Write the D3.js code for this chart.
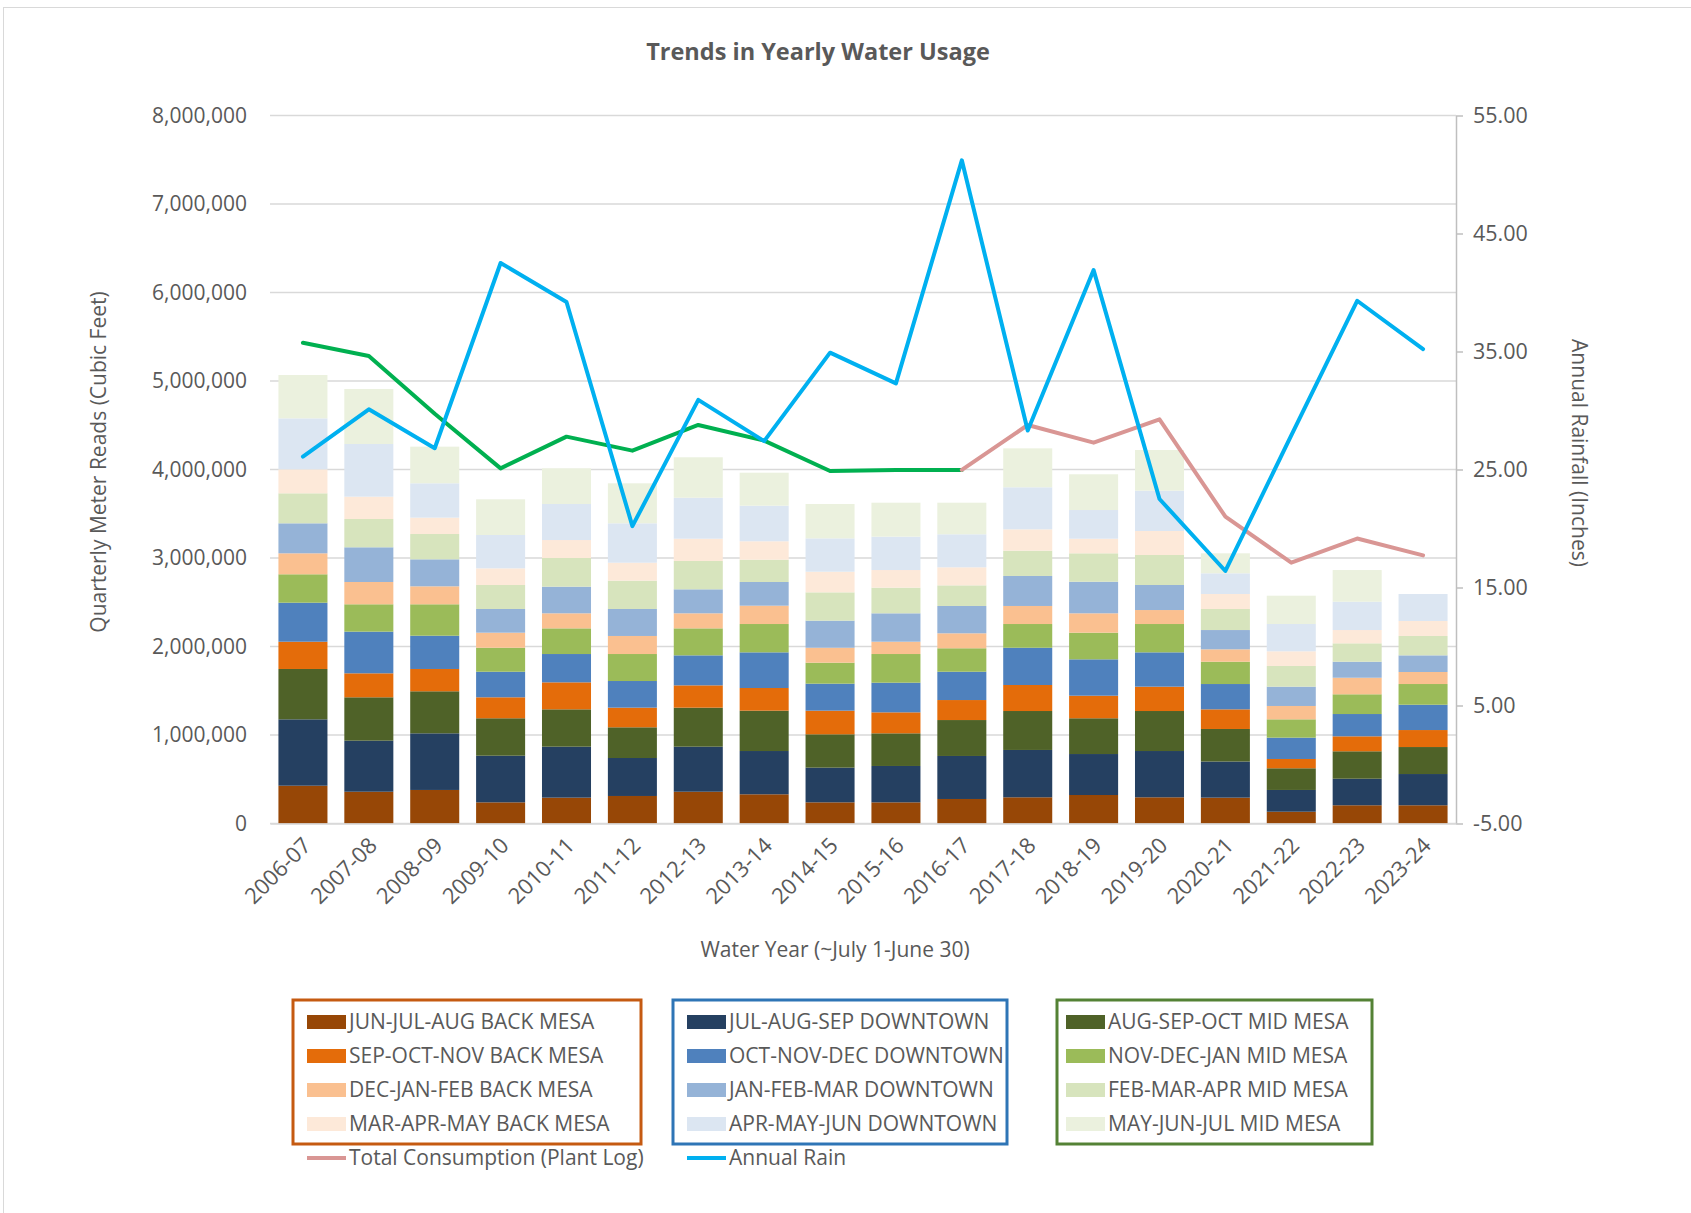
<!DOCTYPE html>
<html>
<head>
<meta charset="utf-8">
<script src="https://cdn.jsdelivr.net/npm/d3@7"></script>
<style>
  body { margin: 0; background: #fff; }
  text { font-family: "Open Sans", "Noto Sans", sans-serif; fill: #595959; }
</style>
</head>
<body>
<div id="chart"></div>
<script>
// water years
var years = ["2006-07","2007-08","2008-09","2009-10","2010-11","2011-12","2012-13","2013-14","2014-15",
             "2015-16","2016-17","2017-18","2018-19","2019-20","2020-21","2021-22","2022-23","2023-24"];

// quarterly meter reads, thousands of cubic feet (stack order, bottom first)
var junJulAugBack  = [427,359,379,239,292,311,359,330,239,239,277,296,322,296,292,133,206,206];
var julAugSepDown  = [750,577,640,527,576,429,509,489,392,411,486,535,463,523,408,246,300,353];
var augSepOctMid   = [569,490,475,423,422,347,441,456,377,369,406,440,404,452,368,245,310,305];
var sepOctNovBack  = [308,271,252,237,305,222,252,256,267,237,226,294,255,275,222,105,169,192];
var octNovDecDown  = [441,471,376,289,320,301,339,403,305,335,320,421,411,388,286,241,252,286];
var novDecJanMid   = [321,309,355,271,290,305,305,320,237,324,265,268,301,320,252,207,223,234];
var decJanFebBack  = [237,252,203,170,170,204,170,207,169,139,169,204,219,158,140,151,187,136];
var janFebMarDown  = [339,392,305,268,301,305,271,268,306,321,309,339,357,283,218,218,181,188];
var febMarAprMid   = [339,320,286,271,324,320,320,252,320,290,233,286,321,339,238,234,208,219];
var marAprMayBack  = [271,252,185,188,203,203,252,208,233,199,204,241,165,271,169,166,150,169];
var aprMayJunDown  = [576,595,388,377,407,445,463,402,377,377,373,475,324,456,234,308,320,305];
var mayJunJulMid   = [490,622,414,403,403,452,457,373,388,384,357,440,404,459,226,320,358,0];

// total consumption (plant log), cubic feet
var plantLog = [5433000,5282000,4630000,4013000,4371000,4213000,4503000,4326000,3983000,
                3994000,3995000,4503000,4303000,4567000,3467000,2947000,3220000,3030000];
// annual rain, inches
var annualRain = [26.1,30.1,26.8,42.5,39.2,20.2,30.9,27.4,34.9,32.3,51.2,28.3,41.9,22.5,16.4,27.9,39.3,35.2];

var seriesNames = ["JUN-JUL-AUG BACK MESA","JUL-AUG-SEP DOWNTOWN","AUG-SEP-OCT MID MESA",
                   "SEP-OCT-NOV BACK MESA","OCT-NOV-DEC DOWNTOWN","NOV-DEC-JAN MID MESA",
                   "DEC-JAN-FEB BACK MESA","JAN-FEB-MAR DOWNTOWN","FEB-MAR-APR MID MESA",
                   "MAR-APR-MAY BACK MESA","APR-MAY-JUN DOWNTOWN","MAY-JUN-JUL MID MESA"];
var seriesValues = [junJulAugBack, julAugSepDown, augSepOctMid, sepOctNovBack, octNovDecDown, novDecJanMid,
                    decJanFebBack, janFebMarDown, febMarAprMid, marAprMayBack, aprMayJunDown, mayJunJulMid];
var seriesColors = ["#974706","#254061","#4f6228","#e46c0a","#4f81bd","#9bbb59",
                    "#fac090","#95b3d7","#d7e4bd","#fde9d9","#dce6f2","#ebf1de"];

var leftTicks = [0,1000000,2000000,3000000,4000000,5000000,6000000,7000000,8000000];
var rightTicks = [-5,5,15,25,35,45,55];

var W = 1691, H = 1213;
var m = { left: 270, right: 1456, top: 115.5, bottom: 823.5 };

var svg = d3.select("#chart").append("svg")
    .attr("width", W)
    .attr("height", H);

svg.append("rect").attr("width", W).attr("height", H).attr("fill", "#fff");
svg.append("rect")
    .attr("x", 3.5).attr("y", 7.5).attr("width", 1720).attr("height", 1300)
    .attr("fill", "none").attr("stroke", "#d9d9d9");

var x = d3.scaleBand().domain(years).range([m.left, m.right]).paddingInner(0.256).paddingOuter(0.128);
var yL = d3.scaleLinear().domain([0, 8000000]).range([m.bottom, m.top]);
var yR = d3.scaleLinear().domain([-5, 55]).range([m.bottom, m.top]);

// gridlines
svg.append("g").selectAll("line").data(leftTicks).enter().append("line")
    .attr("x1", m.left).attr("x2", m.right)
    .attr("y1", function(d) { return yL(d); })
    .attr("y2", function(d) { return yL(d); })
    .attr("stroke", "#d9d9d9").attr("stroke-width", 1.5);

// left axis
var axL = svg.append("g").attr("transform", "translate(" + (m.left - 8) + ",0)")
    .call(d3.axisLeft(yL).tickValues(leftTicks).tickFormat(d3.format(",")).tickSize(0).tickPadding(15));
axL.select(".domain").remove();
axL.selectAll("text").style("font-size", "21px").attr("fill", "#595959");

// right axis
var axR = svg.append("g").attr("transform", "translate(" + m.right + ",0)")
    .call(d3.axisRight(yR).tickValues(rightTicks)
      .tickFormat(function(d) { return d3.format(".2f")(d).replace("\u2212", "-"); })
      .tickSize(7).tickSizeOuter(0).tickPadding(10));
axR.select(".domain").attr("stroke", "#bfbfbf").attr("stroke-width", 1.5);
axR.selectAll(".tick line").attr("stroke", "#bfbfbf").attr("stroke-width", 1.5);
axR.selectAll("text").style("font-size", "21.5px").attr("fill", "#595959");

// stacked bars
var rows = years.map(function(y, i) {
  var r = { year: y };
  seriesNames.forEach(function(n, k) { r[n] = seriesValues[k][i] * 1000; });
  return r;
});
var stacked = d3.stack().keys(seriesNames)(rows);

svg.append("g").selectAll("g").data(stacked).enter().append("g")
    .attr("fill", function(d, k) { return seriesColors[k]; })
  .selectAll("rect").data(function(d) { return d; }).enter().append("rect")
    .attr("x", function(d) { return x(d.data.year); })
    .attr("width", x.bandwidth())
    .attr("y", function(d) { return yL(d[1]); })
    .attr("height", function(d) { return yL(d[0]) - yL(d[1]); });

// x axis
var axX = svg.append("g").attr("transform", "translate(0," + m.bottom + ")")
    .call(d3.axisBottom(x).tickSize(0).tickPadding(0));
axX.select(".domain").attr("stroke", "#d9d9d9").attr("stroke-width", 1.5);
axX.selectAll("text")
    .style("font-size", "22px").attr("fill", "#595959")
    .attr("text-anchor", "end")
    .attr("transform", "translate(4,18) rotate(-45)")
    .attr("dy", "0.35em").attr("y", 0);

// lines
var cx = function(i) { return x(years[i]) + x.bandwidth() / 2; };
var plantPts = plantLog.map(function(v, i) { return [cx(i), yL(v)]; });
var line = d3.line();

svg.append("path")
    .attr("d", line(plantPts.slice(0, 11)))
    .attr("fill", "none").attr("stroke", "#00b050").attr("stroke-width", 4)
    .attr("stroke-linejoin", "round").attr("stroke-linecap", "round");
svg.append("path")
    .attr("d", line(plantPts.slice(10)))
    .attr("fill", "none").attr("stroke", "#d99694").attr("stroke-width", 4)
    .attr("stroke-linejoin", "round").attr("stroke-linecap", "round");
svg.append("path")
    .attr("d", line(annualRain.map(function(v, i) { return [cx(i), yR(v)]; })))
    .attr("fill", "none").attr("stroke", "#00b0f0").attr("stroke-width", 4)
    .attr("stroke-linejoin", "round").attr("stroke-linecap", "round");

// titles
svg.append("text").attr("x", 818).attr("y", 60).attr("text-anchor", "middle")
    .style("font-size", "23.5px").style("font-weight", "bold").text("Trends in Yearly Water Usage");
svg.append("text").attr("transform", "translate(106,462) rotate(-90)").attr("text-anchor", "middle")
    .style("font-size", "21px").text("Quarterly Meter Reads (Cubic Feet)");
svg.append("text").attr("transform", "translate(1572,453) rotate(90)").attr("text-anchor", "middle")
    .style("font-size", "21px").text("Annual Rainfall (Inches)");
svg.append("text").attr("x", 835).attr("y", 957).attr("text-anchor", "middle")
    .style("font-size", "21px").text("Water Year (~July 1-June 30)");

// legend
var boxX = [293, 673, 1057], boxW = [348, 334, 315];
var boxColors = ["#c55a11", "#2e75b6", "#548235"];
var swatchX = [307, 687, 1066];
var rowY = [1022, 1056, 1090, 1124, 1158];

svg.append("g").selectAll("rect").data(boxX).enter().append("rect")
    .attr("x", function(d) { return d; }).attr("y", 1000)
    .attr("width", function(d, i) { return boxW[i]; }).attr("height", 144)
    .attr("fill", "none").attr("stroke", function(d, i) { return boxColors[i]; }).attr("stroke-width", 3);

var leg = svg.append("g").selectAll("g").data(seriesNames).enter().append("g")
    .attr("transform", function(d, i) { return "translate(" + swatchX[i % 3] + "," + rowY[Math.floor(i / 3)] + ")"; });
leg.append("rect").attr("x", 0).attr("y", -7).attr("width", 39).attr("height", 14)
    .attr("fill", function(d, i) { return seriesColors[i]; });
leg.append("text").attr("x", 42).attr("dy", "0.35em").style("font-size", "21px")
    .text(function(d) { return d; });

var lineLeg = [{ name: "Total Consumption (Plant Log)", color: "#d99694" }, { name: "Annual Rain", color: "#00b0f0" }];
var leg2 = svg.append("g").selectAll("g").data(lineLeg).enter().append("g")
    .attr("transform", function(d, i) { return "translate(" + swatchX[i] + "," + rowY[4] + ")"; });
leg2.append("line").attr("x1", 0).attr("x2", 39).attr("stroke", function(d) { return d.color; }).attr("stroke-width", 4);
leg2.append("text").attr("x", 42).attr("dy", "0.35em").style("font-size", "21px")
    .text(function(d) { return d.name; });
</script>
</body>
</html>
